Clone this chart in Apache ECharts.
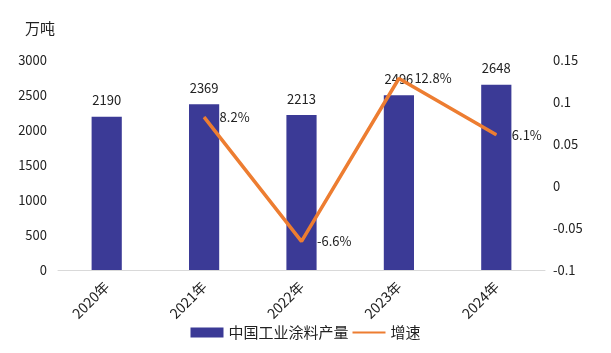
<!DOCTYPE html>
<html>
<head>
<meta charset="utf-8">
<script src="https://cdn.jsdelivr.net/npm/echarts@6/dist/echarts.min.js"></script>
<style>
  html, body { margin: 0; padding: 0; background: #fff; }
  #chart { width: 611px; height: 353px; }
</style>
</head>
<body>
<div id="chart"></div>
<script>
// 数据
const years = ['2020年', '2021年', '2022年', '2023年', '2024年']
const output = [2190, 2369, 2213, 2496, 2648]
const growth = [null, 0.082, -0.066, 0.128, 0.061]

const font = '"Noto Sans CJK SC", "DejaVu Sans", sans-serif'

const chart = echarts.init(document.getElementById('chart'))

const option = {
    backgroundColor: '#fff',
    textStyle: { fontFamily: font, color: '#222' },
    grid: { left: 58, right: 66, top: 60, bottom: 83 },
    title: {
        text: '万吨',
        left: 20,
        top: 16,
        textStyle: { fontSize: 15, fontWeight: 'normal', color: '#222', fontFamily: font }
    },
    legend: {
        bottom: 8,
        left: 'center',
        itemWidth: 33,
        itemHeight: 10,
        itemGap: 4,
        textStyle: { fontSize: 15, color: '#222', fontFamily: font },
        data: [
            { name: '中国工业涂料产量', icon: 'rect' },
            { name: '增速', icon: 'path://M0,4 L33,4 L33,6 L0,6 Z' }
        ]
    },
    xAxis: {
        type: 'category',
        data: years,
        axisLine: { lineStyle: { color: '#d9d9d9' } },
        axisTick: { show: false },
        axisLabel: { rotate: 45, fontSize: 14, color: '#222', margin: 14 }
    },
    yAxis: [
        {
            type: 'value',
            min: 0,
            max: 3000,
            interval: 500,
            splitLine: { show: false },
            axisLine: { show: false },
            axisTick: { show: false },
            axisLabel: { fontSize: 13, color: '#222', margin: 11, formatter: v => String(v) }
        },
        {
            type: 'value',
            min: -0.1,
            max: 0.15,
            interval: 0.05,
            splitLine: { show: false },
            axisLine: { show: false },
            axisTick: { show: false },
            axisLabel: {
                fontSize: 13,
                color: '#222',
                margin: 8,
                formatter: v => String(+v.toFixed(2))
            }
        }
    ],
    series: [
        {
            name: '中国工业涂料产量',
            type: 'bar',
            data: output,
            barWidth: '31%',
            itemStyle: { color: '#3b3a96' },
            label: { show: true, position: 'top', distance: 10, fontSize: 13, color: '#222' }
        },
        {
            name: '增速',
            type: 'line',
            yAxisIndex: 1,
            data: growth,
            symbol: 'circle',
            symbolSize: 1,
            showSymbol: true,
            lineStyle: { color: '#ed7d31', width: 3.5 },
            itemStyle: { color: '#ed7d31' },
            label: {
                show: true,
                position: 'right',
                distance: 15,
                fontSize: 13,
                color: '#222',
                formatter: p => (p.value * 100).toFixed(1) + '%'
            }
        }
    ]
}

chart.setOption(option)
</script>
</body>
</html>
